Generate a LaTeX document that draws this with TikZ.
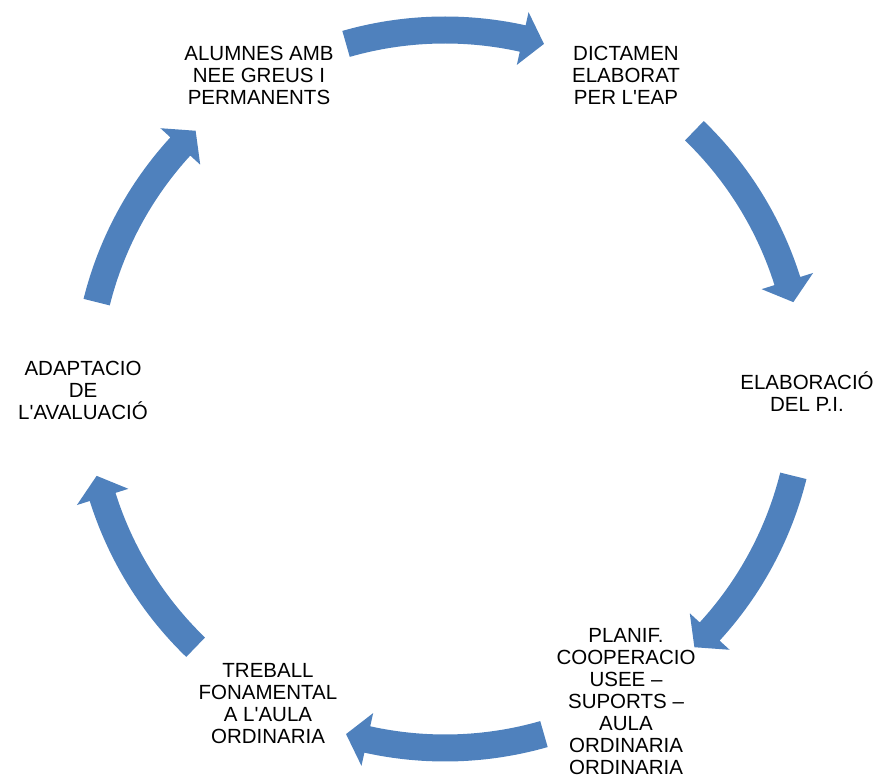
\documentclass[tikz,border=0pt]{standalone}
\usepackage{fontspec}
\setmainfont{Liberation Sans}
\definecolor{arrowblue}{HTML}{4F81BD}
\tikzset{
  lbl/.style={align=center, font=\fontsize{20.5}{22}\selectfont, inner sep=0pt, text=black},
}
% block arrow along the circle, centred on angle #1, running clockwise
\newcommand\cyclearrow[1]{%
  \pgfmathsetmacro\arS{#1+16}%
  \pgfmathsetmacro\arB{#1-12.5}%
  \pgfmathsetmacro\arT{#1-16}%
  \fill[arrowblue] (\arS:372.5pt) arc[start angle=\arS, end angle=\arB, radius=372.5pt]
    -- (\arB:386pt) -- (\arT:359pt) -- (\arB:332pt) -- (\arB:345.5pt)
    arc[start angle=\arB, end angle=\arS, radius=345.5pt] -- cycle;}
\begin{document}
\begin{tikzpicture}[x=1pt,y=1pt]
  \useasboundingbox (0,0) rectangle (878,778);
  \begin{scope}[shift={(445,389)}]
    \cyclearrow{90}
    \cyclearrow{30}
    \cyclearrow{-30}
    \cyclearrow{-90}
    \cyclearrow{-150}
    \cyclearrow{150}
  \end{scope}
  \node[lbl] (alum) at (259,703) {ALUMNES AMB\\NEE GREUS I\\PERMANENTS};
  \node[lbl] (dict) at (626,703) {DICTAMEN\\ELABORAT\\PER L\textquotesingle EAP};
  \node[lbl] (elab) at (807,386) {ELABORACIÓ\\DEL P.I.};
  \node[lbl] (plan) at (626,76) {PLANIF.\\COOPERACIO\\USEE –\\SUPORTS –\\AULA\\ORDINARIA\\ORDINARIA};
  \node[lbl] (treb) at (268,74) {TREBALL\\FONAMENTAL\\A L\textquotesingle AULA\\ORDINARIA};
  \node[lbl] (adap) at (83,388) {ADAPTACIO\\DE\\L\textquotesingle AVALUACIÓ};
\end{tikzpicture}
\end{document}
